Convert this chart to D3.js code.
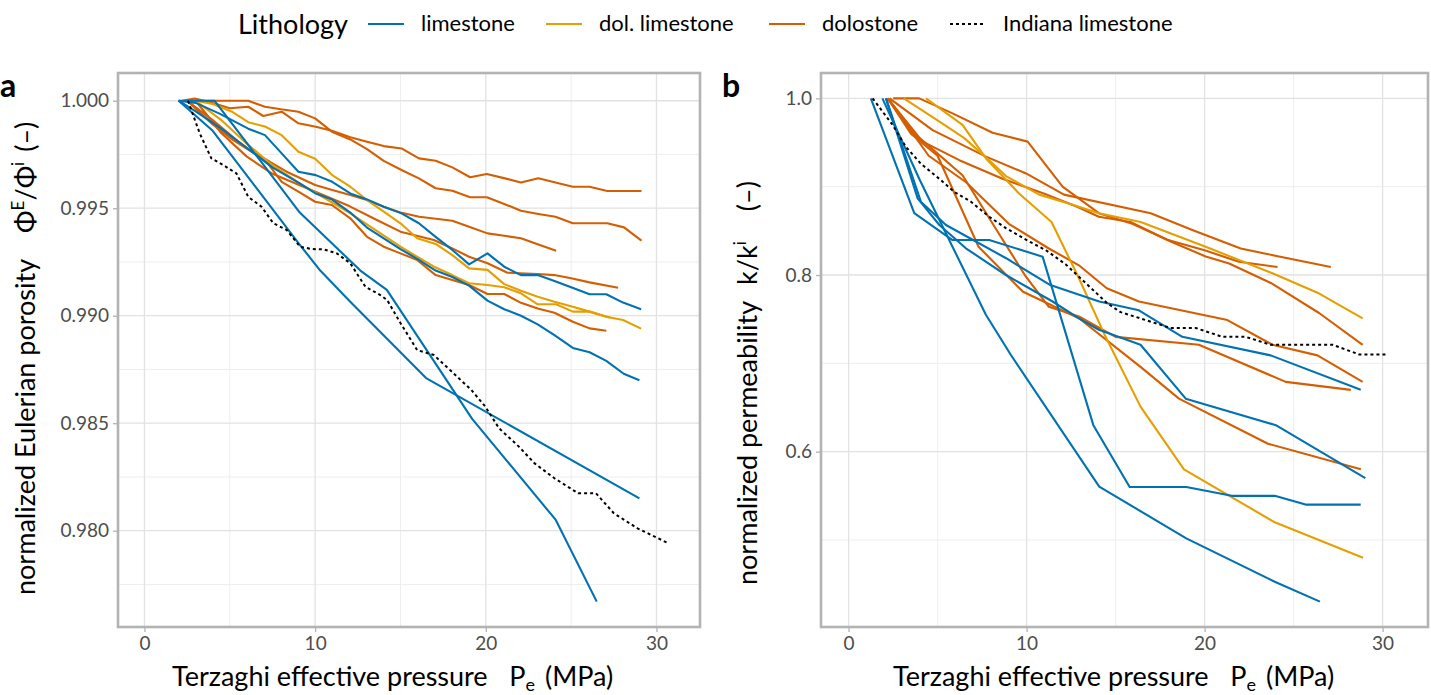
<!DOCTYPE html>
<html><head><meta charset="utf-8">
<script src="https://cdn.jsdelivr.net/npm/d3@7"></script>
<style>body{margin:0;background:#fff}svg{display:block}text{font-family:Lato,"Open Sans",sans-serif}</style>
</head><body><svg id="c" width="1431" height="695"></svg>
<script>
// ---------- DATA (pressure MPa, normalized value) ----------
const lithologies = ["limestone", "dol. limestone", "dolostone", "Indiana limestone"];
const xTicks = [0, 10, 20, 30];
const xMinor = [5, 15, 25];
const aYTicks = [0.980, 0.985, 0.990, 0.995, 1.000];
const aYMinor = [0.9775, 0.9825, 0.9875, 0.9925, 0.9975];
const bYTicks = [0.6, 0.8, 1.0];
const bYMinor = [0.5, 0.7, 0.9];

// Panel a: normalized Eulerian porosity
const aLime1 = [[2.0,1.0],[4.1,1.0],[6.8,0.9972],[9.1,0.9948],[12.65,0.9921],[14.2,0.9912],[19.2,0.9852],[24.1,0.9805],[26.5,0.9767]];
const aLime2 = [[2.0,1.0],[4.0,0.9986],[6.5,0.9960],[9.0,0.9934],[10.3,0.9921],[12.0,0.9907],[16.5,0.9871],[29.0,0.9815]];
const aLime3 = [[2.0,1.0],[3.0,0.9995],[4.5,0.9987],[6.0,0.9978],[7.5,0.9969],[9.0,0.9962],[10.0,0.9957],[11.0,0.9954],[12.06,0.9948],[13.04,0.9941],[14.02,0.9936],[15.0,0.9931],[16.08,0.9926],[17.06,0.9921],[18.04,0.9918],[19.02,0.9914],[20.1,0.9907],[21.08,0.9903],[22.06,0.9900],[23.04,0.9896],[24.02,0.9891],[25.1,0.9885],[26.08,0.9883],[27.06,0.9879],[28.08,0.9873],[29.0,0.9870]];
const aLime4 = [[2.0,1.0],[3.0,0.9999],[4.4,0.9994],[6.08,0.9987],[7.06,0.9984],[8.04,0.99755],[9.02,0.9967],[10.04,0.99654],[11.0,0.99623],[12.06,0.99569],[13.04,0.99541],[14.02,0.99507],[15.06,0.99476],[16.08,0.9943],[17.06,0.99367],[18.04,0.99306],[19.02,0.99239],[20.1,0.9929],[21.08,0.99228],[22.06,0.99189],[23.04,0.99189],[24.02,0.99161],[25.0,0.99132],[26.08,0.991],[27.06,0.991],[28.04,0.99061],[29.1,0.9903]];
const aDolLime1 = [[3.0,1.0],[4.0,0.99985],[5.1,0.9995],[6.08,0.999],[7.06,0.9988],[8.04,0.9984],[9.02,0.99763],[10.0,0.9973],[11.0,0.99654],[12.06,0.996],[13.04,0.99538],[14.02,0.99484],[15.0,0.9943],[15.98,0.9936],[17.06,0.99334],[18.04,0.99282],[19.02,0.9922],[20.1,0.99213],[21.08,0.99147],[22.06,0.99116],[23.04,0.99088],[24.02,0.99065],[25.1,0.99042],[26.08,0.99019],[27.06,0.98995],[28.04,0.9898],[29.1,0.9894]];
const aDolLime2 = [[3.0,1.0],[4.5,0.9991],[6.0,0.9980],[7.5,0.9970],[9.0,0.9962],[10.5,0.9955],[12.0,0.9948],[13.5,0.9940],[15.0,0.99321],[16.96,0.99228],[18.04,0.99189],[19.02,0.99151],[20.1,0.99143],[21.08,0.99132],[22.06,0.99104],[23.04,0.99053],[24.12,0.99053],[25.1,0.99019],[26.08,0.99019],[27.3,0.9899]];
const aDolo1 = [[2.2,1.0],[2.94,1.0001],[4.0,0.9999],[5.0,0.99965],[6.08,0.99972],[6.96,0.99929],[8.04,0.99949],[9.02,0.99895],[10.04,0.99879],[10.98,0.9986],[12.06,0.9983],[13.04,0.99809],[14.02,0.99789],[15.06,0.99778],[16.08,0.99732],[17.06,0.99721],[18.04,0.9969],[19.08,0.99644],[20.06,0.99659],[21.06,0.9964],[22.06,0.9962],[23.08,0.99639],[24.08,0.9962],[25.1,0.996],[26.08,0.996],[27.12,0.9958],[29.12,0.9958]];
const aDolo2 = [[2.5,1.0],[6.08,1.0],[7.06,0.99972],[8.0,0.9996],[9.02,0.99949],[10.0,0.99918],[10.98,0.99856],[12.06,0.9982],[13.04,0.99775],[14.02,0.9972],[15.06,0.99678],[16.08,0.99639],[17.06,0.99593],[18.04,0.99581],[19.08,0.99551],[20.06,0.99551],[21.08,0.9952],[22.06,0.99488],[23.08,0.99473],[24.08,0.9946],[25.1,0.9943],[27.12,0.9943],[28.1,0.99411],[29.12,0.99349]];
const aDolo3 = [[2.5,1.0],[4.0,0.9989],[5.2,0.99817],[6.27,0.99763],[7.35,0.99716],[8.33,0.9967],[10.0,0.99608],[11.0,0.99585],[12.06,0.99561],[13.04,0.99538],[14.02,0.99507],[15.0,0.9948],[16.1,0.9946],[18.04,0.99442],[19.02,0.99414],[20.1,0.99383],[21.08,0.99372],[22.06,0.9936],[23.04,0.99332],[24.12,0.99302]];
const aDolo4 = [[3.0,1.0],[4.5,0.9985],[6.0,0.9974],[7.5,0.9966],[9.0,0.9961],[10.5,0.9956],[12.0,0.9951],[13.5,0.9945],[15.0,0.99391],[16.96,0.99352],[18.04,0.99313],[19.02,0.99274],[20.1,0.99244],[21.27,0.992],[23.04,0.99194],[24.02,0.99189],[25.0,0.99174],[26.08,0.99155],[27.75,0.9913]];
const aDolo5 = [[2.5,1.0],[4.0,0.9991],[5.5,0.9981],[7.16,0.99716],[8.04,0.99623],[9.02,0.99577],[10.0,0.9953],[10.98,0.99515],[12.06,0.99453],[13.04,0.99367],[14.02,0.99321],[15.0,0.9929],[15.98,0.99259],[17.06,0.99189],[18.04,0.99166],[19.02,0.99143],[20.1,0.99101],[21.08,0.99101],[22.06,0.9906],[23.04,0.99034],[24.02,0.99014],[25.1,0.98972],[26.08,0.98941],[27.06,0.9893]];
const aIndiana = [[2.55,1.0],[3.24,0.99848],[3.92,0.99732],[4.61,0.99701],[5.39,0.99662],[6.08,0.99553],[6.86,0.99507],[7.55,0.9943],[8.33,0.99399],[9.12,0.99321],[9.8,0.9931],[10.49,0.99309],[11.27,0.9929],[12.06,0.99244],[12.94,0.99135],[13.82,0.99096],[14.22,0.99073],[15.0,0.98966],[15.98,0.9884],[16.96,0.98817],[18.0,0.9874],[19.16,0.98654],[19.97,0.98577],[20.78,0.98476],[21.94,0.98391],[22.86,0.98313],[24.02,0.98244],[25.41,0.98174],[26.46,0.98174],[27.5,0.98081],[28.89,0.98011],[30.63,0.97944]];

// Panel b: normalized permeability
const bLime1 = [[1.9,1.0],[4.0,0.9075],[7.72,0.7547],[9.12,0.7094],[14.08,0.5604],[18.97,0.5019],[23.94,0.4528],[26.48,0.4302]];
const bLime2 = [[1.25,1.0],[3.69,0.870],[5.84,0.8396],[7.9,0.8396],[10.9,0.8208],[13.75,0.630],[15.79,0.560],[18.97,0.560],[21.52,0.550],[23.94,0.550],[25.72,0.540],[28.77,0.540]];
const bLime3 = [[2.1,1.0],[3.88,0.8868],[5.1,0.8566],[6.59,0.8302],[8.84,0.800],[11.46,0.770],[12.94,0.751],[14.06,0.738],[16.4,0.721],[18.94,0.660],[24.0,0.630],[29.03,0.570]];
const bLime4 = [[2.1,1.0],[4.06,0.883],[5.47,0.8566],[8.85,0.819],[11.29,0.789],[14.08,0.770],[16.31,0.760],[18.75,0.730],[23.71,0.709],[28.77,0.670]];
const bDolLime1 = [[3.1,1.0],[5.0,0.975],[6.5,0.955],[8.0,0.928],[8.84,0.912],[10.71,0.891],[12.5,0.880],[14.06,0.870],[16.41,0.860],[20.06,0.832],[23.81,0.802],[26.44,0.779],[28.88,0.751]];
const bDolLime2 = [[4.35,1.0],[6.4,0.970],[7.72,0.932],[9.59,0.892],[11.4,0.860],[12.9,0.798],[14.44,0.730],[16.4,0.651],[18.84,0.580],[23.94,0.520],[28.9,0.480]];
const bDolo1 = [[2.5,1.0],[3.97,1.0],[5.84,0.983],[8.09,0.961],[10.06,0.951],[12.02,0.900],[14.06,0.870],[15.94,0.858],[17.9,0.840],[20.0,0.828],[21.93,0.815],[24.1,0.809]];
const bDolo2 = [[2.3,1.0],[4.72,0.964],[7.72,0.934],[9.97,0.915],[12.1,0.891],[16.97,0.870],[19.31,0.851],[22.03,0.830],[24.18,0.821],[27.09,0.809]];
const bDolo3 = [[2.2,1.0],[3.97,0.953],[6.22,0.930],[8.65,0.909],[11.0,0.892],[12.87,0.877],[14.06,0.866],[15.84,0.860],[18.09,0.838],[20.06,0.821],[21.38,0.813],[23.72,0.791],[26.43,0.757],[28.88,0.721]];
const bDolo4 = [[2.2,1.0],[4.5,0.935],[6.6,0.905],[9.0,0.858],[11.25,0.830],[12.94,0.811],[14.5,0.785],[16.31,0.770],[21.28,0.749],[23.81,0.721],[26.34,0.709],[28.88,0.679]];
const bDolo5 = [[2.2,1.0],[4.0,0.955],[6.4,0.913],[8.5,0.845],[9.9,0.800],[11.25,0.764],[12.94,0.753],[15.0,0.730],[19.68,0.721],[24.56,0.679],[28.21,0.670]];
const bDolo6 = [[2.2,1.0],[3.5,0.960],[5.0,0.935],[7.3,0.832],[9.8,0.781],[12.94,0.751],[16.4,0.696],[18.56,0.660],[23.56,0.609],[28.78,0.580]];
const bIndiana = [[1.35,1.0],[2.47,0.970],[3.22,0.945],[4.06,0.926],[5.09,0.909],[5.94,0.894],[6.87,0.883],[7.9,0.866],[8.84,0.853],[9.96,0.840],[11.09,0.828],[12.2,0.812],[12.94,0.798],[14.53,0.768],[15.28,0.758],[16.69,0.749],[18.09,0.740],[19.5,0.740],[21.0,0.730],[22.31,0.730],[23.72,0.721],[27.19,0.721],[28.69,0.710],[30.19,0.710]];

// ---------- STYLE ----------
const colors = {"limestone":"#0072B2","dol. limestone":"#E69F00","dolostone":"#D55E00","Indiana limestone":"#000000"};
const seriesA = [
  ["dolostone",aDolo1],["dolostone",aDolo2],["dolostone",aDolo3],["dolostone",aDolo4],["dolostone",aDolo5],
  ["dol. limestone",aDolLime1],["dol. limestone",aDolLime2],
  ["limestone",aLime1],["limestone",aLime2],["limestone",aLime3],["limestone",aLime4],
  ["Indiana limestone",aIndiana]];
const seriesB = [
  ["dolostone",bDolo1],["dolostone",bDolo2],["dolostone",bDolo3],["dolostone",bDolo4],["dolostone",bDolo5],["dolostone",bDolo6],
  ["dol. limestone",bDolLime1],["dol. limestone",bDolLime2],
  ["limestone",bLime1],["limestone",bLime2],["limestone",bLime3],["limestone",bLime4],
  ["Indiana limestone",bIndiana]];

const svg = d3.select("#c");
const xDomain = [-1.55, 32.55];
const GRID_MAJOR = "#e2e2e2", GRID_MINOR = "#ececec", BORDER = "#b3b3b3", TICKTXT = "#4d4d4d";
const TITLE_SIZE = 27;

function panel(cfg){
  const x = d3.scaleLinear().domain(xDomain).range([cfg.left, cfg.right]);
  const y = d3.scaleLinear().domain(cfg.yDomain).range([cfg.bottom, cfg.top]);
  const g = svg.append("g");
  // grid
  g.selectAll(".vmin").data(xMinor).join("line").attr("x1",d=>x(d)).attr("x2",d=>x(d)).attr("y1",cfg.top).attr("y2",cfg.bottom).attr("stroke",GRID_MINOR).attr("stroke-width",0.9);
  g.selectAll(".hmin").data(cfg.yMinor).join("line").attr("y1",d=>y(d)).attr("y2",d=>y(d)).attr("x1",cfg.left).attr("x2",cfg.right).attr("stroke",GRID_MINOR).attr("stroke-width",0.9);
  g.selectAll(".vmaj").data(xTicks).join("line").attr("x1",d=>x(d)).attr("x2",d=>x(d)).attr("y1",cfg.top).attr("y2",cfg.bottom).attr("stroke",GRID_MAJOR).attr("stroke-width",1.3);
  g.selectAll(".hmaj").data(cfg.yTicks).join("line").attr("y1",d=>y(d)).attr("y2",d=>y(d)).attr("x1",cfg.left).attr("x2",cfg.right).attr("stroke",GRID_MAJOR).attr("stroke-width",1.3);
  // series
  const line = d3.line().x(d=>x(d[0])).y(d=>y(d[1]));
  cfg.series.forEach(([lith, pts])=>{
    g.append("path").attr("d", line(pts)).attr("fill","none")
      .attr("stroke", colors[lith]).attr("stroke-width", lith==="Indiana limestone"?2:2.1)
      .attr("stroke-dasharray", lith==="Indiana limestone"?"3,3":null)
      .attr("stroke-linejoin","round");
  });
  // border
  g.append("rect").attr("x",cfg.left).attr("y",cfg.top).attr("width",cfg.right-cfg.left).attr("height",cfg.bottom-cfg.top)
    .attr("fill","none").attr("stroke",BORDER).attr("stroke-width",2.6);
  // axes
  const ax = g.append("g").attr("transform",`translate(0,${cfg.bottom})`)
    .call(d3.axisBottom(x).tickValues(xTicks).tickFormat(d3.format("d")).tickSize(5).tickPadding(5));
  const ay = g.append("g").attr("transform",`translate(${cfg.left},0)`)
    .call(d3.axisLeft(y).tickValues(cfg.yTicks).tickFormat(d3.format(cfg.fmt)).tickSize(5).tickPadding(4));
  [ax, ay].forEach(a=>{
    a.select(".domain").remove();
    a.selectAll(".tick line").attr("stroke",BORDER).attr("stroke-width",1.3);
    a.selectAll(".tick text").attr("fill",TICKTXT).attr("font-size",19).attr("font-family","Lato");
  });
  // panel letter
  svg.append("text").attr("x",cfg.letterX).attr("y",97).attr("font-size",32).attr("font-weight","bold").attr("fill","#000").text(cfg.letter);
  // x title
  const xt = svg.append("text").attr("x",cfg.xTitleX).attr("y",686).attr("font-size",TITLE_SIZE).attr("fill","#000");
  xt.append("tspan").text("Terzaghi effective pressure");
  xt.append("tspan").attr("dx",22).text("P");
  xt.append("tspan").attr("dy",5).attr("font-size",18).text("e");
  xt.append("tspan").attr("dy",-5).attr("dx",10).text("(MPa)");
  // y title
  const yt = svg.append("text").attr("transform",`translate(${cfg.yTitleX},${cfg.yTitleY}) rotate(-90)`).attr("font-size",TITLE_SIZE).attr("fill","#000");
  cfg.yTitle(yt);
}

panel({left:118,right:700,top:73,bottom:627,yDomain:[0.97552,1.00129],yTicks:aYTicks,yMinor:aYMinor,fmt:".3f",
  series:seriesA,letter:"a",letterX:0,xTitleX:172,yTitleX:35,yTitleY:595,
  yTitle:t=>{
    t.append("tspan").text("normalized Eulerian porosity");
    t.append("tspan").attr("dx",26).text("Φ");
    t.append("tspan").attr("dy",-11).attr("font-size",17).text("E");
    t.append("tspan").attr("dy",11).text("/Φ");
    t.append("tspan").attr("dy",-11).attr("font-size",17).text("i");
    t.append("tspan").attr("dy",11).attr("dx",10).text("(–)");
  }});
panel({left:821,right:1428,top:73,bottom:627,yDomain:[0.4015,1.0287],yTicks:bYTicks,yMinor:bYMinor,fmt:".1f",
  series:seriesB,letter:"b",letterX:722,xTitleX:893,yTitleX:757,yTitleY:585,
  yTitle:t=>{
    t.append("tspan").text("normalized permeability");
    t.append("tspan").attr("dx",16).text("k/k");
    t.append("tspan").attr("dy",-11).attr("font-size",17).text("i");
    t.append("tspan").attr("dy",11).attr("dx",30).text("(–)");
  }});

// ---------- LEGEND ----------
const leg = svg.append("g");
leg.append("text").attr("x",238).attr("y",34).attr("font-size",27).attr("fill","#000").text("Lithology");
const legX = [368, 546, 769, 950];
lithologies.forEach((l,i)=>{
  leg.append("line").attr("x1",legX[i]).attr("x2",legX[i]+36).attr("y1",24).attr("y2",24)
    .attr("stroke",colors[l]).attr("stroke-width",2.1).attr("stroke-dasharray",l==="Indiana limestone"?"3,3":null);
  leg.append("text").attr("x",legX[i]+53).attr("y",31).attr("font-size",22).attr("fill","#000").text(l);
});
</script></body></html>
